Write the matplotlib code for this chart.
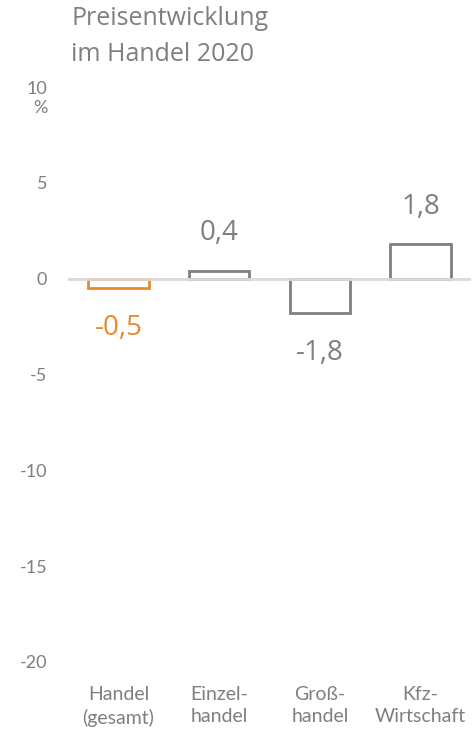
import matplotlib
matplotlib.use("Agg")
import matplotlib.pyplot as plt

# Price development in trade 2020 (change in %)
categories = ["Handel\n(gesamt)", "Einzel-\nhandel", "Groß-\nhandel", "Kfz-\nWirtschaft"]
values = [-0.5, 0.4, -1.8, 1.8]
value_labels = ["-0,5", "0,4", "-1,8", "1,8"]
yticks = [10, 5, 0, -5, -10, -15, -20]
ytick_labels = ["10", "5", "0", "-5", "-10", "-15", "-20"]
title = "Preisentwicklung\nim Handel 2020"

GRAY = "#7f7f7f"
ORANGE = "#EB8A2D"
ZERO = "#d9d9d9"
bar_colors = [ORANGE, GRAY, GRAY, GRAY]

plt.rcParams["font.family"] = ["Lato", "DejaVu Sans"]

W, H = 474, 738
fig = plt.figure(figsize=(W / 100, H / 100), dpi=100)
left, right, top, bottom = 68, 471, 87, 662
ax = fig.add_axes([left / W, 1 - bottom / H, (right - left) / W, (bottom - top) / H])

x = list(range(len(categories)))
ax.bar(x, values, width=0.6, fill=False, edgecolor=bar_colors, linewidth=2, zorder=2)
ax.axhline(0, color=ZERO, linewidth=2, zorder=3)

for xi, v, lab, c in zip(x, values, value_labels, bar_colors):
    off = 27 if v >= 0 else -28.5
    ax.annotate(lab, xy=(xi, v), xytext=(0, off), textcoords="offset points",
                ha="center", va="center", fontsize=20, color=c,
                family=["Open Sans", "DejaVu Sans"])

ax.set_xlim(-0.5, len(categories) - 0.5)
ax.set_ylim(-20, 10)
ax.set_yticks(yticks)
ax.set_yticklabels(ytick_labels)
ax.set_xticks(x)
ax.set_xticklabels(categories, fontsize=14, color=GRAY, linespacing=1.4)
ax.tick_params(axis="y", length=0, pad=15, labelsize=13, labelcolor=GRAY)
ax.tick_params(axis="x", length=0, pad=17)
for s in ax.spines.values():
    s.set_visible(False)

fig.text(40 / W, 1 - 108 / H, "%", ha="center", va="center", fontsize=13, color=GRAY)
fig.text(71 / W, 1 - 6 / H, title, ha="left", va="top", fontsize=18,
         color=GRAY, linespacing=1.6, family=["Open Sans", "DejaVu Sans"])

fig.savefig("out.png", dpi=100, facecolor="white")
